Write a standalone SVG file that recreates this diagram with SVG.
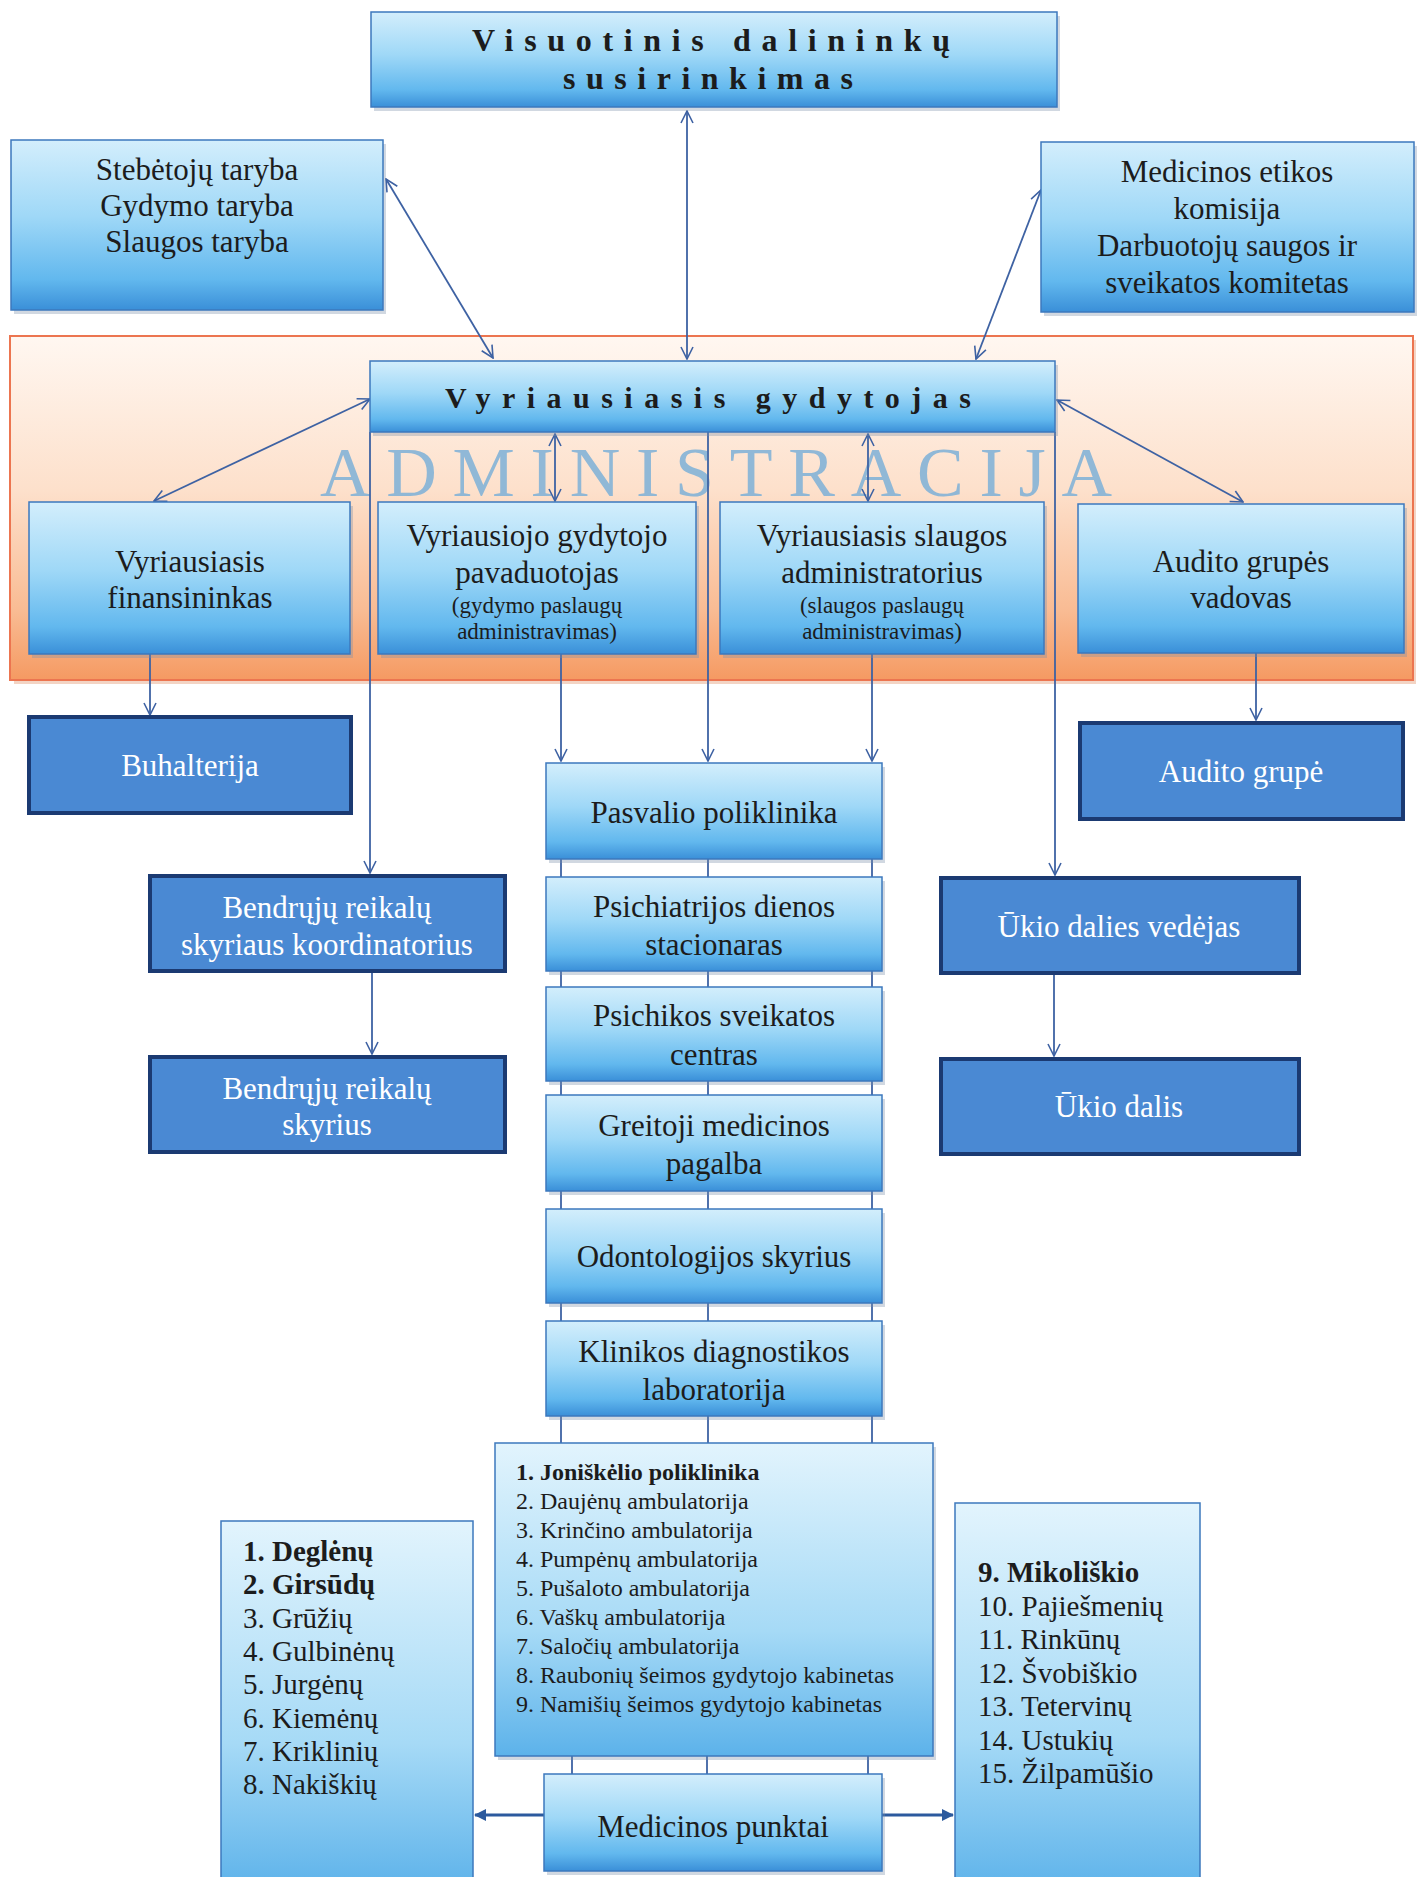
<svg xmlns="http://www.w3.org/2000/svg" width="1423" height="1877" viewBox="0 0 1423 1877">
<defs>
<linearGradient id="gLb" x1="0" y1="0" x2="0" y2="1">
<stop offset="0" stop-color="#d3eefc"/><stop offset="0.45" stop-color="#9fd8f7"/><stop offset="0.82" stop-color="#62b8ee"/><stop offset="1" stop-color="#3a8fd8"/>
</linearGradient>
<linearGradient id="gList" x1="0" y1="0" x2="0" y2="1">
<stop offset="0" stop-color="#e2f4fd"/><stop offset="0.6" stop-color="#a6daf6"/><stop offset="1" stop-color="#5cb2ea"/>
</linearGradient>
<linearGradient id="gPanel" x1="0" y1="0" x2="0" y2="1">
<stop offset="0" stop-color="#fff7f1"/><stop offset="0.45" stop-color="#fde0cb"/><stop offset="0.8" stop-color="#f9bb93"/><stop offset="1" stop-color="#f59a62"/>
</linearGradient>
<marker id="aOpen" viewBox="0 0 14 14" refX="13" refY="7" markerWidth="14" markerHeight="14" markerUnits="userSpaceOnUse" orient="auto-start-reverse">
<path d="M1,1 L13,7 L1,13" fill="none" stroke="#3e62a3" stroke-width="1.6"/>
</marker>
<marker id="aFill" viewBox="0 0 12 12" refX="11" refY="6" markerWidth="12" markerHeight="12" markerUnits="userSpaceOnUse" orient="auto">
<path d="M0,0 L12,6 L0,12 z" fill="#2c5a9e"/>
</marker>
<style>
.lb{fill:url(#gLb);stroke:#3d78bd;stroke-width:1.5}
.li{fill:url(#gList);stroke:#3d78bd;stroke-width:1.5}
.db{fill:#4a89d3;stroke:#1b3a72;stroke-width:4}
.sh{fill:#7a8ea8;opacity:0.35}
.t{font-family:"Liberation Serif","Times New Roman",serif;font-size:31px;fill:#1c1c1c;text-anchor:middle}
.tw{font-family:"Liberation Serif","Times New Roman",serif;font-size:31px;fill:#ffffff;text-anchor:middle}
.ts{font-family:"Liberation Serif","Times New Roman",serif;font-size:23px;fill:#1c1c1c;text-anchor:middle}
.tb{font-family:"Liberation Serif","Times New Roman",serif;font-size:32px;font-weight:bold;fill:#1c1c1c}
.tl{font-family:"Liberation Serif","Times New Roman",serif;font-size:24px;fill:#1c1c1c}
.tm{font-family:"Liberation Serif","Times New Roman",serif;font-size:29px;fill:#1c1c1c}
.c{fill:none;stroke:#3e62a3;stroke-width:1.8}
.ca{fill:none;stroke:#2c5a9e;stroke-width:3}
</style>
</defs>
<rect width="1423" height="1877" fill="#ffffff"/>

<g id="panel-administracija">
<rect x="14" y="340" width="1402" height="344" fill="#e7a98a" opacity="0.5"/>
<rect x="10" y="336" width="1403" height="344" fill="url(#gPanel)" stroke="#ec7550" stroke-width="2"/>
<text x="320" y="496" textLength="792" lengthAdjust="spacing" style="font-family:'Liberation Serif','Times New Roman',serif;font-size:70px;fill:#7db1d8;opacity:0.85">ADMINISTRACIJA</text>
</g>

<g id="connectors">
<line class="c" x1="687" y1="111" x2="687" y2="359" marker-start="url(#aOpen)" marker-end="url(#aOpen)"/>
<line class="c" x1="386" y1="179" x2="493" y2="358" marker-start="url(#aOpen)" marker-end="url(#aOpen)"/>
<line class="c" x1="1041" y1="190" x2="976" y2="359" marker-start="url(#aOpen)" marker-end="url(#aOpen)"/>
<line class="c" x1="370" y1="399" x2="154" y2="501" marker-start="url(#aOpen)" marker-end="url(#aOpen)"/>
<line class="c" x1="1057" y1="400" x2="1243" y2="502" marker-start="url(#aOpen)" marker-end="url(#aOpen)"/>
<line class="c" x1="555" y1="434" x2="555" y2="501" marker-start="url(#aOpen)" marker-end="url(#aOpen)"/>
<line class="c" x1="868" y1="434" x2="868" y2="501" marker-start="url(#aOpen)" marker-end="url(#aOpen)"/>
<line class="c" x1="150" y1="654" x2="150" y2="715" marker-end="url(#aOpen)"/>
<line class="c" x1="370" y1="432" x2="370" y2="873" marker-end="url(#aOpen)"/>
<line class="c" x1="561" y1="654" x2="561" y2="761" marker-end="url(#aOpen)"/>
<line class="c" x1="708" y1="432" x2="708" y2="761" marker-end="url(#aOpen)"/>
<line class="c" x1="872" y1="654" x2="872" y2="761" marker-end="url(#aOpen)"/>
<line class="c" x1="1055" y1="432" x2="1055" y2="875" marker-end="url(#aOpen)"/>
<line class="c" x1="1256" y1="653" x2="1256" y2="720" marker-end="url(#aOpen)"/>
<line class="c" x1="372" y1="971" x2="372" y2="1054" marker-end="url(#aOpen)"/>
<line class="c" x1="1054" y1="974" x2="1054" y2="1056" marker-end="url(#aOpen)"/>
<line class="c" x1="561" y1="859" x2="561" y2="1443"/>
<line class="c" x1="708" y1="859" x2="708" y2="1443"/>
<line class="c" x1="872" y1="859" x2="872" y2="1443"/>
<line class="c" x1="572" y1="1756" x2="572" y2="1774"/>
<line class="c" x1="707" y1="1756" x2="707" y2="1774"/>
<line class="c" x1="868" y1="1756" x2="868" y2="1774"/>
<line class="ca" x1="544" y1="1815" x2="475" y2="1815" marker-end="url(#aFill)"/>
<line class="ca" x1="882" y1="1815" x2="953" y2="1815" marker-end="url(#aFill)"/>
</g>

<g id="n-visuotinis">
<rect class="sh" x="374" y="16" width="686" height="95"/>
<rect class="lb" x="371" y="12" width="686" height="95"/>
<text class="tb" x="472" y="51" textLength="478" lengthAdjust="spacing">Visuotinis dalininkų</text>
<text class="tb" x="563" y="89" textLength="290" lengthAdjust="spacing">susirinkimas</text>
</g>

<g id="n-tarybos">
<rect class="sh" x="14" y="144" width="372" height="170"/>
<rect class="lb" x="11" y="140" width="372" height="170"/>
<text class="t" x="197" y="180">Stebėtojų taryba</text>
<text class="t" x="197" y="216">Gydymo taryba</text>
<text class="t" x="197" y="252">Slaugos taryba</text>
</g>

<g id="n-komisija">
<rect class="sh" x="1044" y="146" width="373" height="170"/>
<rect class="lb" x="1041" y="142" width="373" height="170"/>
<text class="t" x="1227" y="182">Medicinos etikos</text>
<text class="t" x="1227" y="219">komisija</text>
<text class="t" x="1227" y="256">Darbuotojų saugos ir</text>
<text class="t" x="1227" y="293">sveikatos komitetas</text>
</g>

<g id="n-vyr-gydytojas">
<rect class="sh" x="373" y="365" width="685" height="71"/>
<rect class="lb" x="370" y="361" width="685" height="71"/>
<text class="tb" x="445" y="408" textLength="526" lengthAdjust="spacing" style="font-size:30px">Vyriausiasis gydytojas</text>
</g>

<g id="n-finansininkas">
<rect class="sh" x="32" y="506" width="321" height="152"/>
<rect class="lb" x="29" y="502" width="321" height="152"/>
<text class="t" x="190" y="572">Vyriausiasis</text>
<text class="t" x="190" y="608">finansininkas</text>
</g>

<g id="n-pavaduotojas">
<rect class="sh" x="381" y="506" width="318" height="152"/>
<rect class="lb" x="378" y="502" width="318" height="152"/>
<text class="t" x="537" y="546">Vyriausiojo gydytojo</text>
<text class="t" x="537" y="583">pavaduotojas</text>
<text class="ts" x="537" y="613">(gydymo paslaugų</text>
<text class="ts" x="537" y="639">administravimas)</text>
</g>

<g id="n-slaugos-adm">
<rect class="sh" x="723" y="506" width="324" height="152"/>
<rect class="lb" x="720" y="502" width="324" height="152"/>
<text class="t" x="882" y="546">Vyriausiasis slaugos</text>
<text class="t" x="882" y="583">administratorius</text>
<text class="ts" x="882" y="613">(slaugos paslaugų</text>
<text class="ts" x="882" y="639">administravimas)</text>
</g>

<g id="n-audito-vadovas">
<rect class="sh" x="1081" y="508" width="326" height="149"/>
<rect class="lb" x="1078" y="504" width="326" height="149"/>
<text class="t" x="1241" y="572">Audito grupės</text>
<text class="t" x="1241" y="608">vadovas</text>
</g>

<g id="n-buhalterija">
<rect class="db" x="29" y="717" width="322" height="96"/>
<text class="tw" x="190" y="776">Buhalterija</text>
</g>

<g id="n-audito-grupe">
<rect class="db" x="1080" y="723" width="323" height="96"/>
<text class="tw" x="1241" y="782">Audito grupė</text>
</g>

<g id="n-bendruju-koord">
<rect class="db" x="150" y="876" width="355" height="95"/>
<text class="tw" x="327" y="918">Bendrųjų reikalų</text>
<text class="tw" x="327" y="955">skyriaus koordinatorius</text>
</g>

<g id="n-bendruju-skyrius">
<rect class="db" x="150" y="1057" width="355" height="95"/>
<text class="tw" x="327" y="1099">Bendrųjų reikalų</text>
<text class="tw" x="327" y="1135">skyrius</text>
</g>

<g id="n-ukio-vedejas">
<rect class="db" x="941" y="878" width="358" height="95"/>
<text class="tw" x="1119" y="937">Ūkio dalies vedėjas</text>
</g>

<g id="n-ukio-dalis">
<rect class="db" x="941" y="1059" width="358" height="95"/>
<text class="tw" x="1119" y="1117">Ūkio dalis</text>
</g>

<g id="n-pasvalio">
<rect class="sh" x="549" y="767" width="336" height="96"/>
<rect class="lb" x="546" y="763" width="336" height="96"/>
<text class="t" x="714" y="823">Pasvalio poliklinika</text>
</g>

<g id="n-psichiatrijos">
<rect class="sh" x="549" y="881" width="336" height="94"/>
<rect class="lb" x="546" y="877" width="336" height="94"/>
<text class="t" x="714" y="917">Psichiatrijos dienos</text>
<text class="t" x="714" y="955">stacionaras</text>
</g>

<g id="n-psichikos">
<rect class="sh" x="549" y="991" width="336" height="94"/>
<rect class="lb" x="546" y="987" width="336" height="94"/>
<text class="t" x="714" y="1026">Psichikos sveikatos</text>
<text class="t" x="714" y="1065">centras</text>
</g>

<g id="n-greitoji">
<rect class="sh" x="549" y="1099" width="336" height="96"/>
<rect class="lb" x="546" y="1095" width="336" height="96"/>
<text class="t" x="714" y="1136">Greitoji medicinos</text>
<text class="t" x="714" y="1174">pagalba</text>
</g>

<g id="n-odontologijos">
<rect class="sh" x="549" y="1213" width="336" height="94"/>
<rect class="lb" x="546" y="1209" width="336" height="94"/>
<text class="t" x="714" y="1267">Odontologijos skyrius</text>
</g>

<g id="n-klinikos">
<rect class="sh" x="549" y="1325" width="336" height="95"/>
<rect class="lb" x="546" y="1321" width="336" height="95"/>
<text class="t" x="714" y="1362">Klinikos diagnostikos</text>
<text class="t" x="714" y="1400">laboratorija</text>
</g>

<g id="n-joniskelio">
<rect class="sh" x="498" y="1447" width="438" height="313"/>
<rect class="li" x="495" y="1443" width="438" height="313"/>
<text class="tl" x="516" y="1480" font-weight="bold">1. Joniškėlio poliklinika</text>
<text class="tl" x="516" y="1509">2. Daujėnų ambulatorija</text>
<text class="tl" x="516" y="1538">3. Krinčino ambulatorija</text>
<text class="tl" x="516" y="1567">4. Pumpėnų ambulatorija</text>
<text class="tl" x="516" y="1596">5. Pušaloto ambulatorija</text>
<text class="tl" x="516" y="1625">6. Vaškų ambulatorija</text>
<text class="tl" x="516" y="1654">7. Saločių ambulatorija</text>
<text class="tl" x="516" y="1683">8. Raubonių šeimos gydytojo kabinetas</text>
<text class="tl" x="516" y="1712">9. Namišių šeimos gydytojo kabinetas</text>
</g>

<g id="n-medicinos-punktai">
<rect class="sh" x="547" y="1778" width="338" height="97"/>
<rect class="lb" x="544" y="1774" width="338" height="97"/>
<text class="t" x="713" y="1837">Medicinos punktai</text>
</g>

<g id="n-punktai-kaire">
<rect class="li" x="221" y="1521" width="252" height="370"/>
<text class="tm" x="243" y="1561" font-weight="bold">1. Deglėnų</text>
<text class="tm" x="243" y="1594" font-weight="bold">2. Girsūdų</text>
<text class="tm" x="243" y="1628">3. Grūžių</text>
<text class="tm" x="243" y="1661">4. Gulbinėnų</text>
<text class="tm" x="243" y="1694">5. Jurgėnų</text>
<text class="tm" x="243" y="1728">6. Kiemėnų</text>
<text class="tm" x="243" y="1761">7. Kriklinių</text>
<text class="tm" x="243" y="1794">8. Nakiškių</text>
</g>

<g id="n-punktai-desine">
<rect class="li" x="955" y="1503" width="245" height="390"/>
<text class="tm" x="978" y="1582" font-weight="bold">9. Mikoliškio</text>
<text class="tm" x="978" y="1616">10. Pajiešmenių</text>
<text class="tm" x="978" y="1649">11. Rinkūnų</text>
<text class="tm" x="978" y="1683">12. Švobiškio</text>
<text class="tm" x="978" y="1716">13. Tetervinų</text>
<text class="tm" x="978" y="1750">14. Ustukių</text>
<text class="tm" x="978" y="1783">15. Žilpamūšio</text>
</g>
</svg>
